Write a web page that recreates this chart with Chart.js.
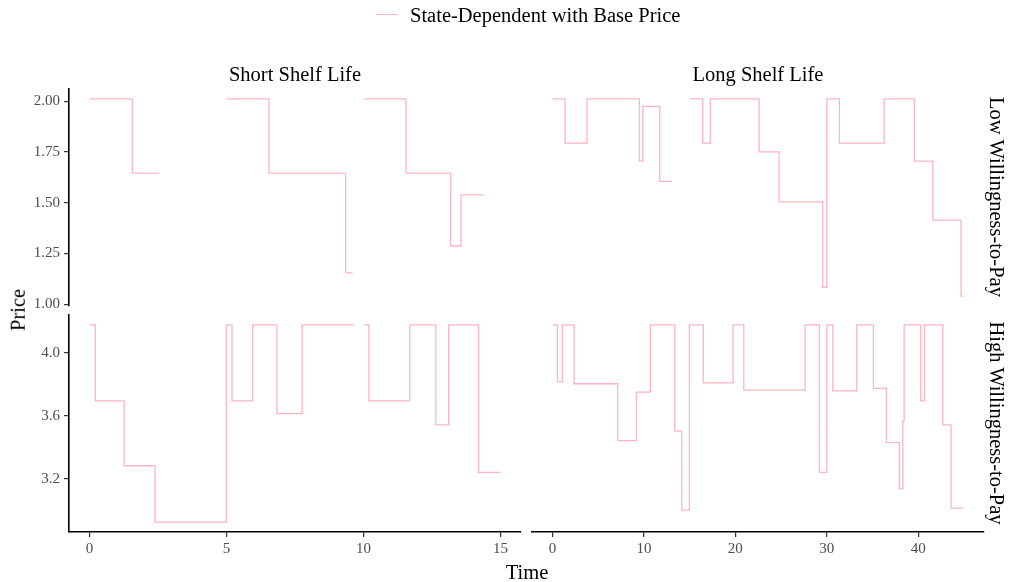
<!DOCTYPE html>
<html>
<head>
<meta charset="utf-8">
<script src="https://cdn.jsdelivr.net/npm/chart.js@4.4.1/dist/chart.umd.min.js"></script>
<style>
  body { margin: 0; background: #fff; }
  #wrap { position: relative; width: 1011px; height: 582px; font-family: "Liberation Serif", serif; color: #000; overflow: hidden; }
  #wrap canvas { position: absolute; left: 0; top: 0; }
  .lbl { position: absolute; white-space: nowrap; font-size: 20.5px; line-height: 1; transform: translate(-50%, -50%); }
  .rot { transform: translate(-50%, -50%) rotate(90deg); }
  .rotl { transform: translate(-50%, -50%) rotate(-90deg); }
</style>
</head>
<body>
<div id="wrap">
  <canvas id="shortLow" width="1011" height="582"></canvas>
  <canvas id="longLow" width="1011" height="582"></canvas>
  <canvas id="shortHigh" width="1011" height="582"></canvas>
  <canvas id="longHigh" width="1011" height="582"></canvas>

  <!-- legende -->
  <div style="position:absolute; left:376px; top:14px; width:21px; height:0; border-top:1.3px solid #FFB6C1;"></div>
  <div class="lbl" style="left:410px; top:15px; transform:translate(0,-50%);">State-Dependent with Base Price</div>

  <!-- bandeaux des facettes -->
  <div class="lbl" style="left:295px; top:74px;">Short Shelf Life</div>
  <div class="lbl" style="left:758px; top:74px;">Long Shelf Life</div>
  <div class="lbl rot" style="left:997px; top:197px;">Low Willingness-to-Pay</div>
  <div class="lbl rot" style="left:997px; top:423px;">High Willingness-to-Pay</div>

  <!-- titres des axes -->
  <div class="lbl rotl" style="left:18px; top:310px;">Price</div>
  <div class="lbl" style="left:527px; top:572px;">Time</div>
</div>

<script>
// Données (null = coupure de la courbe)
const shortLowTime  = [0, 1.56, 2.53, 2.53, 5.0, 6.55, 9.35, 9.6, 9.6, 10.0, 11.55, 13.18, 13.56, 14.38];
const shortLowPrice = [2.012, 1.646, 1.646, null, 2.012, 1.646, 1.155, 1.155, null, 2.012, 1.646, 1.287, 1.539, 1.539];

const longLowTime  = [0, 1.37, 3.77, 9.5, 9.87, 11.73, 13.07, 13.07, 15.0, 16.43, 17.26, 22.59, 24.78, 29.56, 30.0, 31.38, 36.27, 39.58, 41.6, 44.69, 44.95];
const longLowPrice = [2.012, 1.794, 2.012, 1.705, 1.975, 1.605, 1.605, null, 2.012, 1.794, 2.012, 1.751, 1.504, 1.083, 2.012, 1.794, 2.012, 1.705, 1.415, 1.04, 1.04];

const shortHighTime  = [0, 0.21, 1.26, 2.39, 4.99, 5.2, 5.95, 6.84, 7.76, 9.64, 9.64, 10.0, 10.2, 11.69, 12.64, 13.11, 14.2, 15.0];
const shortHighPrice = [4.179, 3.695, 3.282, 2.923, 4.179, 3.695, 4.179, 3.614, 4.179, 4.179, null, 4.179, 3.695, 4.179, 3.542, 4.179, 3.24, 3.24];

const longHighTime  = [0, 0.53, 1.07, 2.35, 7.13, 9.17, 10.7, 13.37, 14.14, 14.97, 16.5, 19.75, 20.92, 27.63, 29.19, 30.0, 30.66, 33.28, 35.1, 36.52, 37.94, 38.31, 38.46, 40.28, 40.68, 42.69, 43.6, 44.95];
const longHighPrice = [4.179, 3.817, 4.179, 3.804, 3.442, 3.751, 4.179, 3.502, 2.999, 4.179, 3.81, 4.179, 3.764, 4.179, 3.24, 4.179, 3.759, 4.179, 3.774, 3.429, 3.135, 3.568, 4.179, 3.695, 4.179, 3.542, 3.012, 3.012];

const shortTicks = [0, 5, 10, 15];
const longTicks  = [0, 10, 20, 30, 40];
const lowTicks   = [1.00, 1.25, 1.50, 1.75, 2.00];
const highTicks  = [3.2, 3.6, 4.0];

const lineColor = '#FFB6C1';
const fontFamily = '"Liberation Serif", serif';

// limites comme ggplot : étendue + 5 % de chaque côté
function expand(...lists) {
  const v = [].concat(...lists).filter(x => x !== null);
  const lo = Math.min(...v), hi = Math.max(...v);
  const e = (hi - lo) * 0.05;
  return [lo - e, hi + e];
}

const shortX = expand(shortLowTime, shortHighTime);
const longX  = expand(longLowTime, longHighTime);
const lowY   = expand(shortLowPrice, longLowPrice);
const highY  = expand(shortHighPrice, longHighPrice);

function makePanel(id, times, prices, xLim, yLim, xTicks, yTicks, yDigits, padding, showX, showY) {
  const points = times.map((t, i) => ({ x: t, y: prices[i] }));
  const axisStyle = {
    grid: { display: true, drawOnChartArea: false, drawTicks: true, tickLength: 5, color: '#333333', lineWidth: 1.2 },
    border: { display: true, color: '#000', width: 1.6 },
  };
  return new Chart(document.getElementById(id), {
    type: 'line',
    data: {
      datasets: [{
        data: points,
        borderColor: lineColor,
        borderWidth: 1.3,
        pointRadius: 0,
        stepped: 'before',
        spanGaps: false,
        fill: false,
      }],
    },
    options: {
      responsive: false,
      animation: false,
      events: [],
      layout: { padding: padding },
      plugins: { legend: { display: false }, tooltip: { enabled: false } },
      scales: {
        x: Object.assign({
          type: 'linear',
          display: showX,
          min: xLim[0],
          max: xLim[1],
          afterBuildTicks: (s) => { s.ticks = xTicks.map(v => ({ value: v })); },
          afterFit: (s) => { s.height = showX ? 30 : 0; s.paddingLeft = 0; s.paddingRight = 0; },
          ticks: { padding: 3, color: '#4D4D4D', maxRotation: 0, font: { family: fontFamily, size: 15 } },
        }, axisStyle),
        y: Object.assign({
          type: 'linear',
          display: showY,
          min: yLim[0],
          max: yLim[1],
          afterBuildTicks: (s) => { s.ticks = yTicks.map(v => ({ value: v })); },
          afterFit: (s) => { s.width = showY ? 60 : 0; s.paddingTop = 0; s.paddingBottom = 0; },
          ticks: {
            padding: 4,
            color: '#4D4D4D',
            font: { family: fontFamily, size: 15 },
            callback: (v) => Number(v).toFixed(yDigits),
          },
        }, axisStyle),
      },
    },
  });
}

// zones de tracé : gauche 69-521, droite 532-984, haut 89-306, bas 315-532
const shortLowChart  = makePanel('shortLow',  shortLowTime,  shortLowPrice,  shortX, lowY,  shortTicks, lowTicks,  2, { left: 9,   right: 490, top: 89,  bottom: 276 }, false, true);
const longLowChart   = makePanel('longLow',   longLowTime,   longLowPrice,   longX,  lowY,  longTicks,  lowTicks,  2, { left: 532, right: 27,  top: 89,  bottom: 276 }, false, false);
const shortHighChart = makePanel('shortHigh', shortHighTime, shortHighPrice, shortX, highY, shortTicks, highTicks, 1, { left: 9,   right: 490, top: 315, bottom: 20 },  true,  true);
const longHighChart  = makePanel('longHigh',  longHighTime,  longHighPrice,  longX,  highY, longTicks,  highTicks, 1, { left: 532, right: 27,  top: 315, bottom: 20 },  true,  false);
</script>
</body>
</html>
